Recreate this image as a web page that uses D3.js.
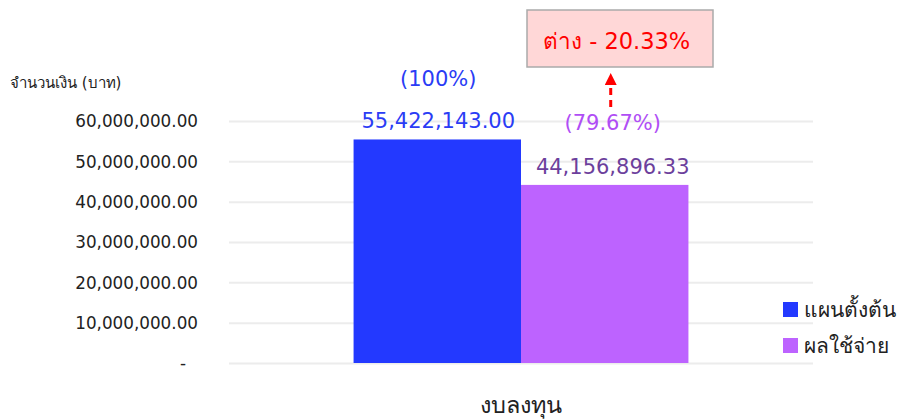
<!DOCTYPE html>
<html>
<head>
<meta charset="utf-8">
<script src="https://cdn.jsdelivr.net/npm/d3@7"></script>
<style>
  body { margin: 0; background: #fff; }
  text { font-family: Tahoma, "DejaVu Sans", "Noto Sans", sans-serif; }
</style>
</head>
<body>
<svg id="chart"></svg>
<script>
// data
const categories = ['งบลงทุน'];
const seriesNames = ['แผนตั้งต้น', 'ผลใช้จ่าย'];
const seriesValues = [55422143.00, 44156896.33];
const percentLabels = ['(100%)', '(79.67%)'];
const diffLabel = 'ต่าง - 20.33%';
const yTicks = [0, 10000000, 20000000, 30000000, 40000000, 50000000, 60000000];
const yTitle = 'จำนวนเงิน (บาท)';

const barColors = ['#2339ff', '#bd63ff'];
const valueColors = ['#2a3cf5', '#6c3f9c'];
const pctColors = ['#2a3cf5', '#b04ef5'];
// label offsets from the bar centre (the purple labels sit a little to the right)
const labelShift = [1, 8];

const width = 900, height = 419;
const margin = {top: 121, right: 87, bottom: 56, left: 229};

const svg = d3.select('#chart')
    .attr('width', width)
    .attr('height', height);

const innerW = width - margin.left - margin.right;
const innerH = height - margin.top - margin.bottom;

const chart = svg.append('g')
    .attr('transform', `translate(${margin.left},${margin.top})`);

const yScale = d3.scaleLinear()
    .domain([0, 60000000])
    .range([innerH, 0]);

const x0 = d3.scaleBand()
    .domain(categories)
    .range([0, innerW])
    .paddingInner(0)
    .paddingOuter(0.372);

const x1 = d3.scaleBand()
    .domain(seriesNames)
    .range([0, x0.bandwidth()]);

// gridlines
const yAxis = d3.axisLeft(yScale)
    .tickValues(yTicks)
    .tickSize(-innerW)
    .tickPadding(31)
    .tickFormat(d => d === 0 ? '-' : d3.format(',.2f')(d));

const yAxisG = chart.append('g')
    .attr('class', 'axis y-axis')
    .call(yAxis)
    .call(g => g.select('.domain').remove());

yAxisG.selectAll('.tick line')
    .attr('stroke', '#ececec')
    .attr('stroke-width', 2);

yAxisG.selectAll('.tick text')
    .attr('fill', '#222')
    .style('font-size', '16.8px')
    .attr('dy', '0.35em')
    .attr('dx', d => d === 0 ? -12 : 0);

// y title
svg.append('text')
    .attr('x', 10)
    .attr('y', 88)
    .attr('fill', '#222')
    .style('font-size', '15px')
    .text(yTitle);

// bars
const group = chart.selectAll('.group')
    .data(categories)
    .join('g')
    .attr('class', 'group')
    .attr('transform', d => `translate(${x0(d)},0)`);

const barData = seriesNames.map((s, i) => ({name: s, value: seriesValues[i], i: i}));

group.selectAll('rect')
    .data(barData)
    .join('rect')
    .attr('x', d => x1(d.name))
    .attr('y', d => yScale(d.value))
    .attr('width', x1.bandwidth())
    .attr('height', d => innerH - yScale(d.value))
    .attr('fill', d => barColors[d.i]);

// value labels
group.selectAll('.val')
    .data(barData)
    .join('text')
    .attr('class', 'val')
    .attr('x', d => x1(d.name) + x1.bandwidth() / 2 + labelShift[d.i])
    .attr('y', d => yScale(d.value) - 11)
    .attr('text-anchor', 'middle')
    .attr('fill', d => valueColors[d.i])
    .style('font-size', '21px')
    .text(d => d3.format(',.2f')(d.value));

group.selectAll('.pct')
    .data(barData)
    .join('text')
    .attr('class', 'pct')
    .attr('x', d => x1(d.name) + x1.bandwidth() / 2 + labelShift[d.i])
    .attr('y', (d, i) => i === 0 ? yScale(d.value) - 53 : yScale(d.value) - 55)
    .attr('text-anchor', 'middle')
    .attr('fill', d => pctColors[d.i])
    .style('font-size', '21px')
    .text((d, i) => percentLabels[i]);

// difference box and arrow
const cx = margin.left + x0(categories[0]) + x1(seriesNames[1]) + x1.bandwidth() / 2 + 6;

svg.append('defs').append('marker')
    .attr('id', 'arrow')
    .attr('viewBox', '0 0 10 10')
    .attr('refX', 5)
    .attr('refY', 5)
    .attr('markerWidth', 4)
    .attr('markerHeight', 4)
    .attr('orient', 'auto')
    .append('path')
    .attr('d', 'M0,0 L10,5 L0,10 Z')
    .attr('fill', '#ff0000');

svg.append('line')
    .attr('x1', cx)
    .attr('x2', cx)
    .attr('y1', 107)
    .attr('y2', 79)
    .attr('stroke', '#ff0000')
    .attr('stroke-width', 3)
    .attr('stroke-dasharray', '7,5')
    .attr('marker-end', 'url(#arrow)');

svg.append('rect')
    .attr('x', 527)
    .attr('y', 10)
    .attr('width', 186)
    .attr('height', 57)
    .attr('fill', '#ffd7d7')
    .attr('stroke', '#aaaaaa')
    .attr('stroke-width', 1.5);

svg.append('text')
    .attr('x', 543)
    .attr('y', 49)
    .attr('fill', '#ff0000')
    .style('font-size', '22.5px')
    .text(diffLabel);

// x axis label
svg.append('text')
    .attr('x', margin.left + innerW / 2)
    .attr('y', 413)
    .attr('text-anchor', 'middle')
    .attr('fill', '#222')
    .style('font-size', '23.5px')
    .text(categories[0]);

// legend
const legend = svg.append('g')
    .attr('transform', 'translate(783,302)');

const items = legend.selectAll('g')
    .data(seriesNames)
    .join('g')
    .attr('transform', (d, i) => `translate(0,${i * 36})`);

items.append('rect')
    .attr('width', 15)
    .attr('height', 15)
    .attr('fill', (d, i) => barColors[i]);

items.append('text')
    .attr('x', 21)
    .attr('y', 15)
    .attr('fill', '#222')
    .style('font-size', '21px')
    .text(d => d);
</script>
</body>
</html>
